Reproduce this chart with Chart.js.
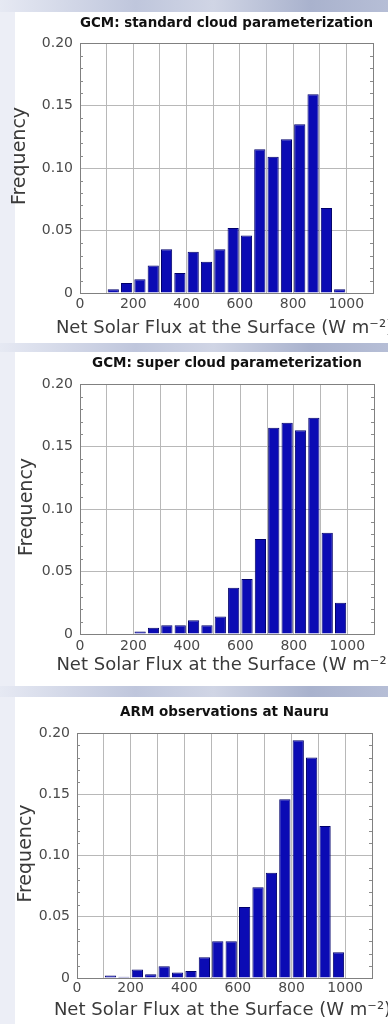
<!DOCTYPE html>
<html>
<head>
<meta charset="utf-8">
<title>Net Solar Flux at the Surface - histograms</title>
<script src="https://cdn.jsdelivr.net/npm/chart.js@4.4.1/dist/chart.umd.min.js"></script>
<style>
body { margin: 0; width: 388px; height: 1024px; background: #eceef6; position: relative; overflow: hidden; }
.band { position: absolute; left: 0; width: 388px; background: linear-gradient(to right, #e6e9f3 0%, #bfc6dc 35%, #d0d5e5 55%, #a9b2cd 80%, #b6bed6 100%); }
.sheet { position: absolute; left: 15px; width: 373px; background: #fff; }
.box { position: absolute; left: 0; width: 388px; }
</style>
</head>
<body>
<div class="band" style="top:0;height:12px"></div>
<div class="sheet" style="top:12px;height:331px"></div>
<div class="box" style="top:12px;height:331px"><canvas id="chartStandard"></canvas></div>

<div class="band" style="top:343px;height:9px"></div>
<div class="sheet" style="top:352px;height:334px"></div>
<div class="box" style="top:352px;height:334px"><canvas id="chartSuper"></canvas></div>

<div class="band" style="top:686px;height:11px"></div>
<div class="sheet" style="top:697px;height:327px"></div>
<div class="box" style="top:697px;height:327px"><canvas id="chartArm"></canvas></div>

<script>
// variables: BIN CENTRES (W m-2) AND FREQUENCIES
var fluxBins = [125, 175, 225, 275, 325, 375, 425, 475, 525, 575, 625, 675, 725, 775, 825, 875, 925, 975];
var standardFreq = [0.003, 0.008, 0.011, 0.022, 0.035, 0.016, 0.033, 0.025, 0.035, 0.052, 0.046, 0.115, 0.109, 0.123, 0.135, 0.159, 0.068, 0.003];
var superFreq = [null, null, 0.002, 0.005, 0.007, 0.007, 0.011, 0.007, 0.014, 0.037, 0.044, 0.076, 0.165, 0.169, 0.163, 0.173, 0.081, 0.025];
var armFreq = [0.002, 0.001, 0.007, 0.003, 0.0095, 0.0045, 0.0057, 0.017, 0.030, 0.030, 0.058, 0.074, 0.086, 0.146, 0.194, 0.180, 0.124, 0.021];

// variables: AXES AND TEXTS
var xTickLabels = [0, 200, 400, 600, 800, 1000];
var yTickValues = [0, 0.05, 0.1, 0.15, 0.2];
var xRange = [0, 1100];
var panelTitles = ["GCM: standard cloud parameterization", "GCM: super cloud parameterization", "ARM observations at Nauru"];
var xAxisTitle = "Net Solar Flux at the Surface (W m\u207B\u00B2)";
var yAxisTitle = "Frequency";

Chart.defaults.font.family = "'DejaVu Sans', sans-serif";

// plugin: SMALL INWARD TICKS EVERY 0.01 ON THE LEFT AND RIGHT EDGES
var minorTicks = {
    id: "minorTicks",
    beforeDatasetsDraw: function(chart) {
        var ctx = chart.ctx;
        var y = chart.scales.y;
        var area = chart.chartArea;
        ctx.save();
        ctx.strokeStyle = "#8a8a8a";
        ctx.lineWidth = 1;
        for (var i = 1; i < 20; i++) {
            if (i % 5 === 0) continue;
            var py = Math.round(y.getPixelForValue(i / 100)) + 0.5;
            ctx.beginPath();
            ctx.moveTo(area.left, py);
            ctx.lineTo(area.left + 3, py);
            ctx.moveTo(area.right, py);
            ctx.lineTo(area.right - 3, py);
            ctx.stroke();
        }
        ctx.restore();
    }
};

// plugin: AXIS TITLES (the x title is wider than the plot, so it is drawn here unsqueezed)
var axisTitles = {
    id: "axisTitles",
    afterDraw: function(chart, args, opts) {
        var ctx = chart.ctx;
        var area = chart.chartArea;
        ctx.save();
        ctx.fillStyle = "#3a3a3a";
        ctx.textAlign = "center";
        ctx.textBaseline = "middle";
        ctx.font = "18px 'DejaVu Sans'";
        ctx.fillText(xAxisTitle, (area.left + area.right) / 2 - 2, opts.xTitleY);
        ctx.translate(opts.yTitleX, (area.top + area.bottom) / 2 + opts.yTitleShift);
        ctx.rotate(-Math.PI / 2);
        ctx.font = "19px 'DejaVu Sans'";
        ctx.fillText(yAxisTitle, 0, 0);
        ctx.restore();
    }
};

// function: BUILD ONE HISTOGRAM PANEL
var makeHistogram = function(canvasId, title, values, look) {
    var points = fluxBins.map(function(x, i) {
        return { x: x, y: values[i] };
    });
    var edge = "#808080";
    var grid = "#b8b8b8";
    return new Chart(document.getElementById(canvasId), {
        type: "bar",
        data: {
            datasets: [{
                data: points,
                backgroundColor: "#0b0bb4",
                borderColor: "#00006a",
                borderWidth: 1,
                barPercentage: 0.84,
                categoryPercentage: 1
            }]
        },
        options: {
            responsive: true,
            maintainAspectRatio: false,
            animation: false,
            devicePixelRatio: 1,
            layout: { padding: { left: 0, right: look.rightPad, top: 0, bottom: 0 } },
            plugins: {
                legend: { display: false },
                tooltip: { enabled: false },
                title: {
                    display: true,
                    text: title,
                    fullSize: false,
                    color: "#111",
                    font: { size: 13.5, weight: "bold" },
                    padding: { top: look.titleTop, bottom: look.titleBottom }
                },
                axisTitles: look
            },
            scales: {
                x: {
                    type: "linear",
                    min: xRange[0],
                    max: xRange[1],
                    offset: false,
                    afterFit: function(scale) { scale.height = look.xAxisHeight; },
                    grid: {
                        offset: false,
                        drawTicks: false,
                        color: function(c) { return c.tick && c.tick.value === xRange[1] ? edge : grid; }
                    },
                    border: { color: edge },
                    ticks: {
                        stepSize: 100,
                        padding: look.tickPad,
                        color: "#4a4a4a",
                        font: { size: 14 },
                        maxRotation: 0,
                        autoSkip: false,
                        callback: function(v) { return xTickLabels.indexOf(v) >= 0 ? String(v) : ""; }
                    }
                },
                y: {
                    min: yTickValues[0],
                    max: yTickValues[yTickValues.length - 1],
                    afterFit: function(scale) { scale.width = look.left; },
                    afterBuildTicks: function(axis) {
                        axis.ticks = yTickValues.map(function(v) { return { value: v }; });
                    },
                    grid: {
                        drawTicks: false,
                        color: function(c) { return c.tick && c.tick.value === yTickValues[yTickValues.length - 1] ? edge : grid; }
                    },
                    border: { color: edge },
                    ticks: {
                        padding: 7,
                        color: "#4a4a4a",
                        font: { size: 14 }
                    }
                }
            }
        },
        plugins: [minorTicks, axisTitles]
    });
};

makeHistogram("chartStandard", panelTitles[0], standardFreq,
    { left: 80, rightPad: 15, titleTop: 3.4, titleBottom: 11.4, xAxisHeight: 50, tickPad: 3, xTitleY: 316, yTitleX: 20.5, yTitleShift: -12 });
makeHistogram("chartSuper", panelTitles[1], superFreq,
    { left: 80, rightPad: 14, titleTop: 3.4, titleBottom: 12.4, xAxisHeight: 52, tickPad: 4, xTitleY: 313, yTitleX: 27, yTitleShift: -2 });
makeHistogram("chartArm", panelTitles[2], armFreq,
    { left: 77, rightPad: 16, titleTop: 7.4, titleBottom: 12.4, xAxisHeight: 46, tickPad: 2, xTitleY: 313, yTitleX: 26, yTitleShift: -2 });
</script>
</body>
</html>
